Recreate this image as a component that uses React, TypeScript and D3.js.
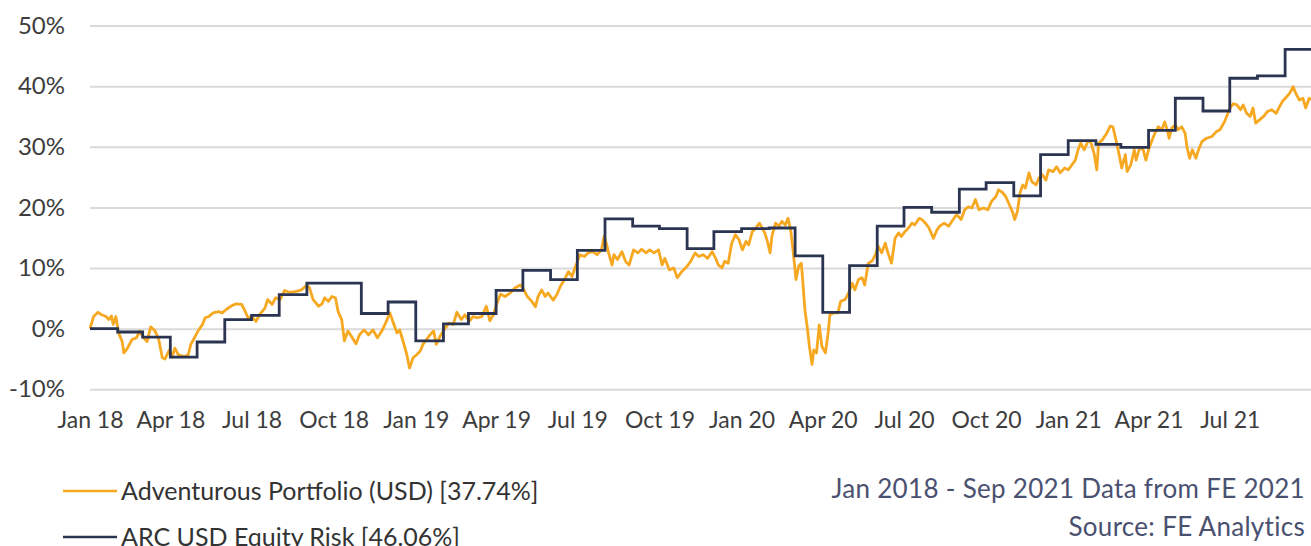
import { useEffect, useRef } from 'react'

import * as d3 from 'd3'

// Adventurous Portfolio (USD): [days since 1 Jan 2018, cumulative return %]
const portfolio: [number, number][] = [
  [0, 0], [4, 2.0], [9, 2.7], [13, 2.3], [18, 2.0], [21, 1.5], [24, 2.1], [26, 0.7], [29, 2.0], [32, -0.7],
  [36, -2.1], [38, -4.0], [42, -3.2], [47, -1.8], [52, -1.5], [56, -0.4], [60, -1.5], [64, -2.1], [68, 0.3], [73, -0.4],
  [77, -1.8], [81, -4.8], [84, -5.0], [89, -3.5], [92, -4.7], [95, -3.2], [99, -4.3], [106, -4.6], [110, -4.3], [113, -2.6],
  [117, -1.5], [121, -0.4], [126, 0.7], [129, 1.8], [133, 2.0], [138, 2.6], [144, 2.8], [148, 2.6], [153, 3.2], [159, 3.8],
  [164, 4.1], [170, 4.0], [174, 2.8], [177, 1.8], [181, 2.0], [186, 1.2], [190, 2.3], [196, 3.4], [199, 4.8], [204, 4.0],
  [208, 5.1], [213, 4.8], [218, 6.3], [223, 6.0], [230, 6.1], [237, 6.4], [243, 7.2], [246, 6.7], [250, 4.8], [256, 3.7],
  [260, 4.1], [263, 5.1], [267, 4.5], [271, 5.3], [275, 5.1], [278, 2.8], [282, 1.5], [285, -2.0], [289, -0.4], [293, -1.3],
  [298, -2.5], [302, -1.0], [307, -0.2], [312, -1.0], [317, -0.2], [322, -1.5], [327, -0.4], [332, 1.2], [336, 2.6], [340, 0.9],
  [344, -0.7], [347, -0.2], [351, -2.2], [355, -4.3], [358, -6.5], [362, -4.8], [366, -4.3], [370, -3.7], [373, -2.6], [377, -1.8],
  [381, -1.0], [385, -0.4], [388, -2.6], [392, -1.3], [398, 0.1], [402, 0.9], [407, 0.7], [411, 2.7], [416, 1.5], [420, 2.3],
  [425, 1.2], [429, 2.0], [434, 1.8], [439, 2.0], [444, 3.7], [448, 1.3], [452, 2.3], [456, 4.2], [460, 5.7], [465, 5.3],
  [471, 5.9], [476, 6.7], [482, 7.2], [485, 6.7], [490, 5.3], [495, 4.5], [499, 3.6], [502, 5.3], [506, 6.4], [510, 5.3],
  [513, 5.9], [519, 4.7], [523, 5.6], [527, 7.0], [532, 8.2], [536, 9.4], [540, 8.6], [544, 10.3], [549, 12.2], [554, 11.9],
  [558, 12.5], [563, 12.7], [568, 12.2], [573, 13.0], [576, 15.2], [579, 13.8], [581, 12.5], [585, 10.5], [587, 12.2], [591, 11.4],
  [596, 12.7], [600, 11.1], [604, 10.5], [609, 13.0], [614, 12.5], [618, 13.1], [623, 12.5], [627, 13.0], [632, 12.5], [637, 13.0],
  [641, 10.5], [644, 11.6], [649, 9.7], [654, 10.0], [658, 8.4], [663, 9.4], [669, 10.3], [673, 11.1], [678, 12.5], [682, 11.9],
  [687, 12.2], [692, 11.6], [697, 12.7], [701, 11.6], [704, 10.5], [708, 10.0], [711, 11.1], [715, 10.8], [719, 14.1], [723, 15.5],
  [727, 14.7], [731, 13.0], [735, 14.4], [738, 13.8], [742, 16.0], [746, 16.6], [750, 17.4], [753, 16.6], [756, 15.8], [759, 14.4],
  [762, 12.5], [764, 15.2], [768, 17.4], [772, 16.9], [775, 17.7], [779, 17.1], [782, 18.2], [785, 16.3], [788, 12.5], [791, 8.1],
  [794, 10.3], [797, 10.8], [799, 7.0], [801, 3.1], [804, -0.2], [806, -2.9], [809, -5.9], [811, -3.5], [814, -4.0], [817, 0.6],
  [820, -2.9], [824, -4.0], [827, -0.7], [829, 2.3], [833, 2.6], [838, 2.6], [841, 4.5], [846, 4.8], [850, 5.9], [854, 7.5],
  [857, 6.4], [861, 8.1], [865, 8.4], [868, 7.2], [872, 10.8], [876, 11.1], [880, 12.2], [883, 13.6], [887, 12.5], [891, 14.1],
  [894, 12.5], [898, 10.8], [902, 14.9], [906, 15.8], [909, 15.2], [913, 16.0], [917, 16.6], [921, 17.4], [924, 17.1], [929, 18.2],
  [932, 18.0], [936, 17.4], [940, 16.6], [945, 14.9], [949, 16.3], [952, 16.9], [957, 17.4], [962, 16.9], [967, 18.0], [971, 18.8],
  [976, 18.0], [980, 19.6], [984, 20.1], [988, 19.9], [992, 21.3], [996, 19.6], [1001, 19.9], [1006, 19.6], [1010, 21.0], [1015, 21.8],
  [1018, 22.9], [1022, 22.5], [1026, 21.8], [1031, 20.1], [1034, 19.1], [1036, 18.0], [1039, 19.3], [1042, 22.4], [1045, 23.7], [1048, 23.2],
  [1052, 25.7], [1055, 24.3], [1060, 23.7], [1063, 24.8], [1067, 25.4], [1071, 24.5], [1074, 26.2], [1079, 25.9], [1083, 26.7], [1087, 25.7],
  [1092, 26.5], [1096, 26.2], [1100, 27.0], [1104, 27.8], [1107, 29.5], [1110, 30.6], [1114, 29.5], [1118, 30.9], [1121, 30.9], [1125, 28.9],
  [1128, 26.2], [1130, 30.6], [1134, 31.1], [1139, 32.2], [1143, 33.4], [1146, 33.3], [1150, 30.8], [1153, 28.7], [1156, 26.5], [1160, 28.7],
  [1162, 25.9], [1166, 27.0], [1170, 29.5], [1172, 27.8], [1176, 29.8], [1180, 29.5], [1183, 27.8], [1186, 29.5], [1190, 31.1], [1193, 32.2],
  [1197, 33.3], [1201, 32.8], [1204, 34.1], [1207, 32.8], [1209, 31.4], [1212, 33.1], [1216, 33.6], [1219, 32.8], [1223, 33.3], [1227, 32.2],
  [1229, 30.0], [1232, 28.1], [1235, 29.5], [1239, 28.1], [1242, 29.5], [1246, 30.9], [1251, 31.4], [1257, 31.7], [1262, 32.5], [1266, 32.8],
  [1271, 34.1], [1274, 35.2], [1278, 36.6], [1281, 37.1], [1285, 36.9], [1289, 36.1], [1292, 36.9], [1296, 35.5], [1300, 35.0], [1303, 36.4],
  [1306, 33.9], [1310, 34.4], [1315, 35.0], [1319, 35.8], [1324, 36.1], [1329, 35.5], [1332, 36.4], [1336, 37.5], [1341, 38.3], [1344, 38.8],
  [1348, 39.9], [1351, 38.8], [1355, 37.7], [1359, 38.0], [1362, 36.4], [1366, 38.0], [1368, 37.74],
]

// ARC USD Equity Risk: monthly values, drawn as steps
const benchmark: [string, number][] = [
  ['2018-01-01', 0], ['2018-02-01', -0.55], ['2018-03-01', -1.4], ['2018-04-01', -4.7], ['2018-05-01', -2.2],
  ['2018-06-01', 1.5], ['2018-07-01', 2.2], ['2018-08-01', 5.6], ['2018-09-01', 7.5], ['2018-10-01', 7.5],
  ['2018-11-01', 2.5], ['2018-12-01', 4.4], ['2019-01-01', -2.0], ['2019-02-01', 0.8], ['2019-03-01', 2.5],
  ['2019-04-01', 6.3], ['2019-05-01', 9.6], ['2019-06-01', 8.1], ['2019-07-01', 12.9], ['2019-08-01', 18.1],
  ['2019-09-01', 16.9], ['2019-10-01', 16.5], ['2019-11-01', 13.2], ['2019-12-01', 16.0], ['2020-01-01', 16.5],
  ['2020-02-01', 16.6], ['2020-03-01', 12.0], ['2020-04-01', 2.7], ['2020-05-01', 10.4], ['2020-06-01', 16.9],
  ['2020-07-01', 20.0], ['2020-08-01', 19.2], ['2020-09-01', 23.0], ['2020-10-01', 24.1], ['2020-11-01', 21.9],
  ['2020-12-01', 28.7], ['2021-01-01', 31.0], ['2021-02-01', 30.4], ['2021-03-01', 29.9], ['2021-04-01', 32.7],
  ['2021-05-01', 38.0], ['2021-06-01', 35.9], ['2021-07-01', 41.3], ['2021-08-01', 41.7], ['2021-09-01', 46.06],
  ['2021-09-30', 46.06],
]

const yTicks = [-10, 0, 10, 20, 30, 40, 50]
const xTickMonths = [
  '2018-01-01', '2018-04-01', '2018-07-01', '2018-10-01', '2019-01-01', '2019-04-01', '2019-07-01', '2019-10-01',
  '2020-01-01', '2020-04-01', '2020-07-01', '2020-10-01', '2021-01-01', '2021-04-01', '2021-07-01',
]
const legendItems = ['Adventurous Portfolio (USD) [37.74%]', 'ARC USD Equity Risk [46.06%]']
const footnotes = ['Jan 2018 - Sep 2021 Data from FE 2021', 'Source: FE Analytics']

const WIDTH = 1311
const HEIGHT = 546
const COLORS = ['#F6A821', '#2B3450']
const FONT = 'Lato, "Noto Sans", sans-serif'

const App = () => {
  const ref = useRef<SVGSVGElement>(null)

  useEffect(() => {
    const svg = d3.select(ref.current)
    svg.selectAll('*').remove()

    const start = new Date('2018-01-01T00:00:00Z')
    const x = d3.scaleUtc().domain([start, new Date('2021-09-30T00:00:00Z')]).range([90, WIDTH])
    const y = d3.scaleLinear().domain([-10, 50]).range([389.3, 25.5])

    // Gridlines and percentage labels
    const yAxis = svg
      .append('g')
      .attr('transform', 'translate(90,0)')
      .call(
        d3
          .axisLeft(y)
          .tickValues(yTicks)
          .tickSize(-(WIDTH - 90))
          .tickPadding(25)
          .tickFormat((d) => `${d}%`)
      )
    yAxis.select('.domain').remove()
    yAxis.selectAll('.tick line').attr('stroke', '#dadada').attr('stroke-width', 2)
    yAxis
      .selectAll('.tick text')
      .attr('fill', '#3d3d3d')
      .attr('font-size', 24)
      .attr('font-family', FONT)

    // Month labels
    const xAxis = svg
      .append('g')
      .attr('transform', 'translate(0,389.3)')
      .call(
        d3
          .axisBottom(x)
          .tickValues(xTickMonths.map((m) => new Date(m + 'T00:00:00Z')))
          .tickSize(0)
          .tickPadding(22)
          .tickFormat((d) => d3.utcFormat('%b %y')(d as Date))
      )
    xAxis.select('.domain').remove()
    xAxis
      .selectAll('.tick text')
      .attr('fill', '#3d3d3d')
      .attr('font-size', 23)
      .attr('font-family', FONT)

    svg
      .append('clipPath')
      .attr('id', 'plot-clip')
      .append('rect')
      .attr('x', 88)
      .attr('y', 0)
      .attr('width', WIDTH - 88)
      .attr('height', 400)

    const plot = svg.append('g').attr('clip-path', 'url(#plot-clip)')

    const portfolioLine = d3
      .line<[number, number]>()
      .x((d) => x(d3.utcDay.offset(start, d[0])))
      .y((d) => y(d[1]))

    plot
      .append('path')
      .datum(portfolio)
      .attr('fill', 'none')
      .attr('stroke', COLORS[0])
      .attr('stroke-width', 2.8)
      .attr('stroke-linejoin', 'round')
      .attr('d', portfolioLine)

    const benchmarkLine = d3
      .line<[string, number]>()
      .curve(d3.curveStepAfter)
      .x((d) => x(new Date(d[0] + 'T00:00:00Z')))
      .y((d) => y(d[1]))

    plot
      .append('path')
      .datum(benchmark)
      .attr('fill', 'none')
      .attr('stroke', COLORS[1])
      .attr('stroke-width', 2.8)
      .attr('d', benchmarkLine)

    // Legend
    legendItems.forEach((label, i) => {
      const cy = 491 + i * 46
      svg
        .append('line')
        .attr('x1', 63)
        .attr('x2', 117)
        .attr('y1', cy)
        .attr('y2', cy)
        .attr('stroke', COLORS[i])
        .attr('stroke-width', 2.5)
      svg
        .append('text')
        .attr('x', 121)
        .attr('y', cy + 8.5)
        .attr('font-size', 25)
        .attr('font-family', FONT)
        .attr('fill', '#333')
        .text(label)
    })

    // Period and source
    footnotes.forEach((note, i) => {
      svg
        .append('text')
        .attr('x', 1305)
        .attr('y', 498 + i * 38)
        .attr('text-anchor', 'end')
        .attr('font-size', 26)
        .attr('letter-spacing', 0.3)
        .attr('font-family', FONT)
        .attr('fill', '#4a5170')
        .text(note)
    })
  }, [])

  return (
    <svg
      ref={ref}
      width={WIDTH}
      height={HEIGHT}
      style={{ position: 'absolute', left: 0, top: 0, background: '#fff' }}
    />
  )
}

export default App
